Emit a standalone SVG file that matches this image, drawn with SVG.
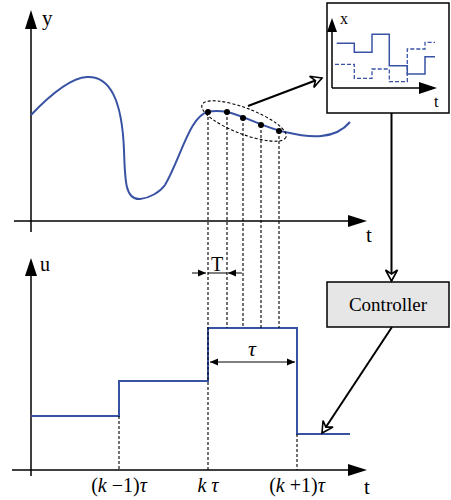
<svg xmlns="http://www.w3.org/2000/svg" width="451" height="500" viewBox="0 0 451 500">
<style>
.ax{stroke:#000;stroke-width:1.5;fill:none}
.bl{stroke:#3953a4;stroke-width:2;fill:none}
.bd{stroke:#3953a4;stroke-width:1.3;fill:none;stroke-dasharray:4,2}
.ds{stroke:#000;stroke-width:1.1;fill:none;stroke-dasharray:3,2}
.ar{stroke:#000;stroke-width:2;fill:none}
text{font-family:"Liberation Serif","Times New Roman","DejaVu Serif",serif;fill:#000}
.it{font-style:italic}
</style>
<defs>
<marker id="vee" viewBox="-12 -7 14 14" markerWidth="14" markerHeight="14" refX="0" refY="0" orient="auto" markerUnits="userSpaceOnUse">
<path d="M-11,-6 L0,0 L-11,6 L-7,0 Z" fill="#fff" stroke="#000" stroke-width="1.6" stroke-linejoin="miter"/>
</marker>
<marker id="dim" viewBox="-8 -4 9 8" markerWidth="9" markerHeight="8" refX="0" refY="0" orient="auto-start-reverse" markerUnits="userSpaceOnUse">
<path d="M-8,-3.5 L0,0 L-8,3.5 Z" fill="#000"/>
</marker>
</defs>

<g id="top-plot">
<line class="ax" x1="31" y1="232" x2="31" y2="26"/>
<path d="M25,29 L31,10 L37,29 Z" fill="#000"/>
<line class="ax" x1="14" y1="221" x2="350" y2="221"/>
<path d="M348,215 L367,221 L348,227 Z" fill="#000"/>
<text font-family="Liberation Serif, serif" x="42" y="25" font-size="21">y</text>
<text font-family="Liberation Serif, serif" x="366" y="242" font-size="21">t</text>
<path class="bl" d="M31,115 C50,95 70,78 87,77 C110,76 122,100 124,150 C125,180 125,200 140,199 C150,198 160,192 165,185 C180,160 190,115 208,112 C215,110 222,111 227,112 C245,116 265,128 285,132 C310,138 335,140 350,122"/>
<g fill="#000">
<circle cx="208" cy="112" r="3"/>
<circle cx="227" cy="112" r="3"/>
<circle cx="243" cy="118" r="3"/>
<circle cx="261" cy="125" r="3"/>
<circle cx="279" cy="131" r="3"/>
</g>
<ellipse class="ds" cx="244" cy="121" rx="45" ry="13" transform="rotate(21 244 121)"/>
</g>

<g id="inset">
<rect x="327" y="3" width="122" height="110" fill="#fff" stroke="#000" stroke-width="1.5"/>
<line class="ax" x1="332" y1="88" x2="332" y2="30"/>
<path d="M327,32 L332,18 L337,32 Z" fill="#000"/>
<line class="ax" x1="332" y1="88" x2="421" y2="88"/>
<path d="M419,82 L437,88 L419,94 Z" fill="#000"/>
<text font-family="Liberation Serif, serif" x="340" y="24" font-size="16">x</text>
<text font-family="Liberation Serif, serif" x="434" y="107" font-size="16">t</text>
<path class="bl" style="stroke-width:1.5" d="M336.7,43.3 H354.3 V52.3 H372 V34.3 H389.3 V65.7 H407.3 V74 H425 V56.7 H435"/>
<path class="bd" d="M335,64.3 H354.3 V78.3 H372 V69 H389.3 V81.7 H407.3 V49 H425 V42.3 H435"/>
</g>

<g id="controller">
<rect x="327" y="282" width="122" height="45" fill="#e6e6e6" stroke="#000" stroke-width="1.5"/>
<text font-family="Liberation Serif, serif" x="388" y="311" font-size="19" text-anchor="middle">Controller</text>
</g>

<g id="bottom-plot">
<line class="ax" x1="31" y1="476" x2="31" y2="274"/>
<path d="M25,276 L31,258 L37,276 Z" fill="#000"/>
<line class="ax" x1="12" y1="470" x2="350" y2="470"/>
<path d="M348,464 L367,470 L348,476 Z" fill="#000"/>
<text font-family="Liberation Serif, serif" x="40" y="271" font-size="20">u</text>
<text font-family="Liberation Serif, serif" x="364" y="494" font-size="21">t</text>
<path class="bl" d="M31,416 H119 V381 H208 V328 H297 V434 H350"/>
<text font-family="Liberation Serif, serif" x="119" y="492" font-size="20" text-anchor="middle">(<tspan class="it">k</tspan> −1)<tspan class="it">τ</tspan></text>
<text font-family="Liberation Serif, serif" x="208" y="492" font-size="20" text-anchor="middle"><tspan class="it">k τ</tspan></text>
<text font-family="Liberation Serif, serif" x="297" y="492" font-size="20" text-anchor="middle">(<tspan class="it">k</tspan> +1)<tspan class="it">τ</tspan></text>
</g>

<g id="dimensions">
<line x1="192" y1="273" x2="206" y2="273" stroke="#000" stroke-width="1" marker-end="url(#dim)"/>
<line x1="242" y1="273" x2="228" y2="273" stroke="#000" stroke-width="1" marker-end="url(#dim)"/>
<line x1="208" y1="273" x2="227" y2="273" stroke="#000" stroke-width="1"/>
<text font-family="Liberation Serif, serif" x="217" y="271" font-size="20" text-anchor="middle">T</text>
<line x1="210" y1="362" x2="295" y2="362" stroke="#000" stroke-width="1" marker-start="url(#dim)" marker-end="url(#dim)"/>
<text font-family="Liberation Serif, serif" class="it" x="252" y="356" font-size="22" text-anchor="middle">τ</text>
</g>

<g id="connectors">
<line class="ds" x1="208" y1="112" x2="208" y2="470"/>
<line class="ds" x1="227" y1="112" x2="227" y2="328"/>
<line class="ds" x1="243" y1="118" x2="243" y2="328"/>
<line class="ds" x1="261" y1="125" x2="261" y2="328"/>
<line class="ds" x1="279" y1="131" x2="279" y2="328"/>
<line class="ds" x1="119" y1="416" x2="119" y2="470"/>
<line class="ds" x1="297" y1="434" x2="297" y2="470"/>
<line class="ar" x1="248" y1="106" x2="322" y2="78" marker-end="url(#vee)"/>
<line class="ar" x1="391.5" y1="113" x2="391.5" y2="281" marker-end="url(#vee)"/>
<line class="ar" x1="392" y1="327" x2="322" y2="433" marker-end="url(#vee)"/>
</g>
</svg>
